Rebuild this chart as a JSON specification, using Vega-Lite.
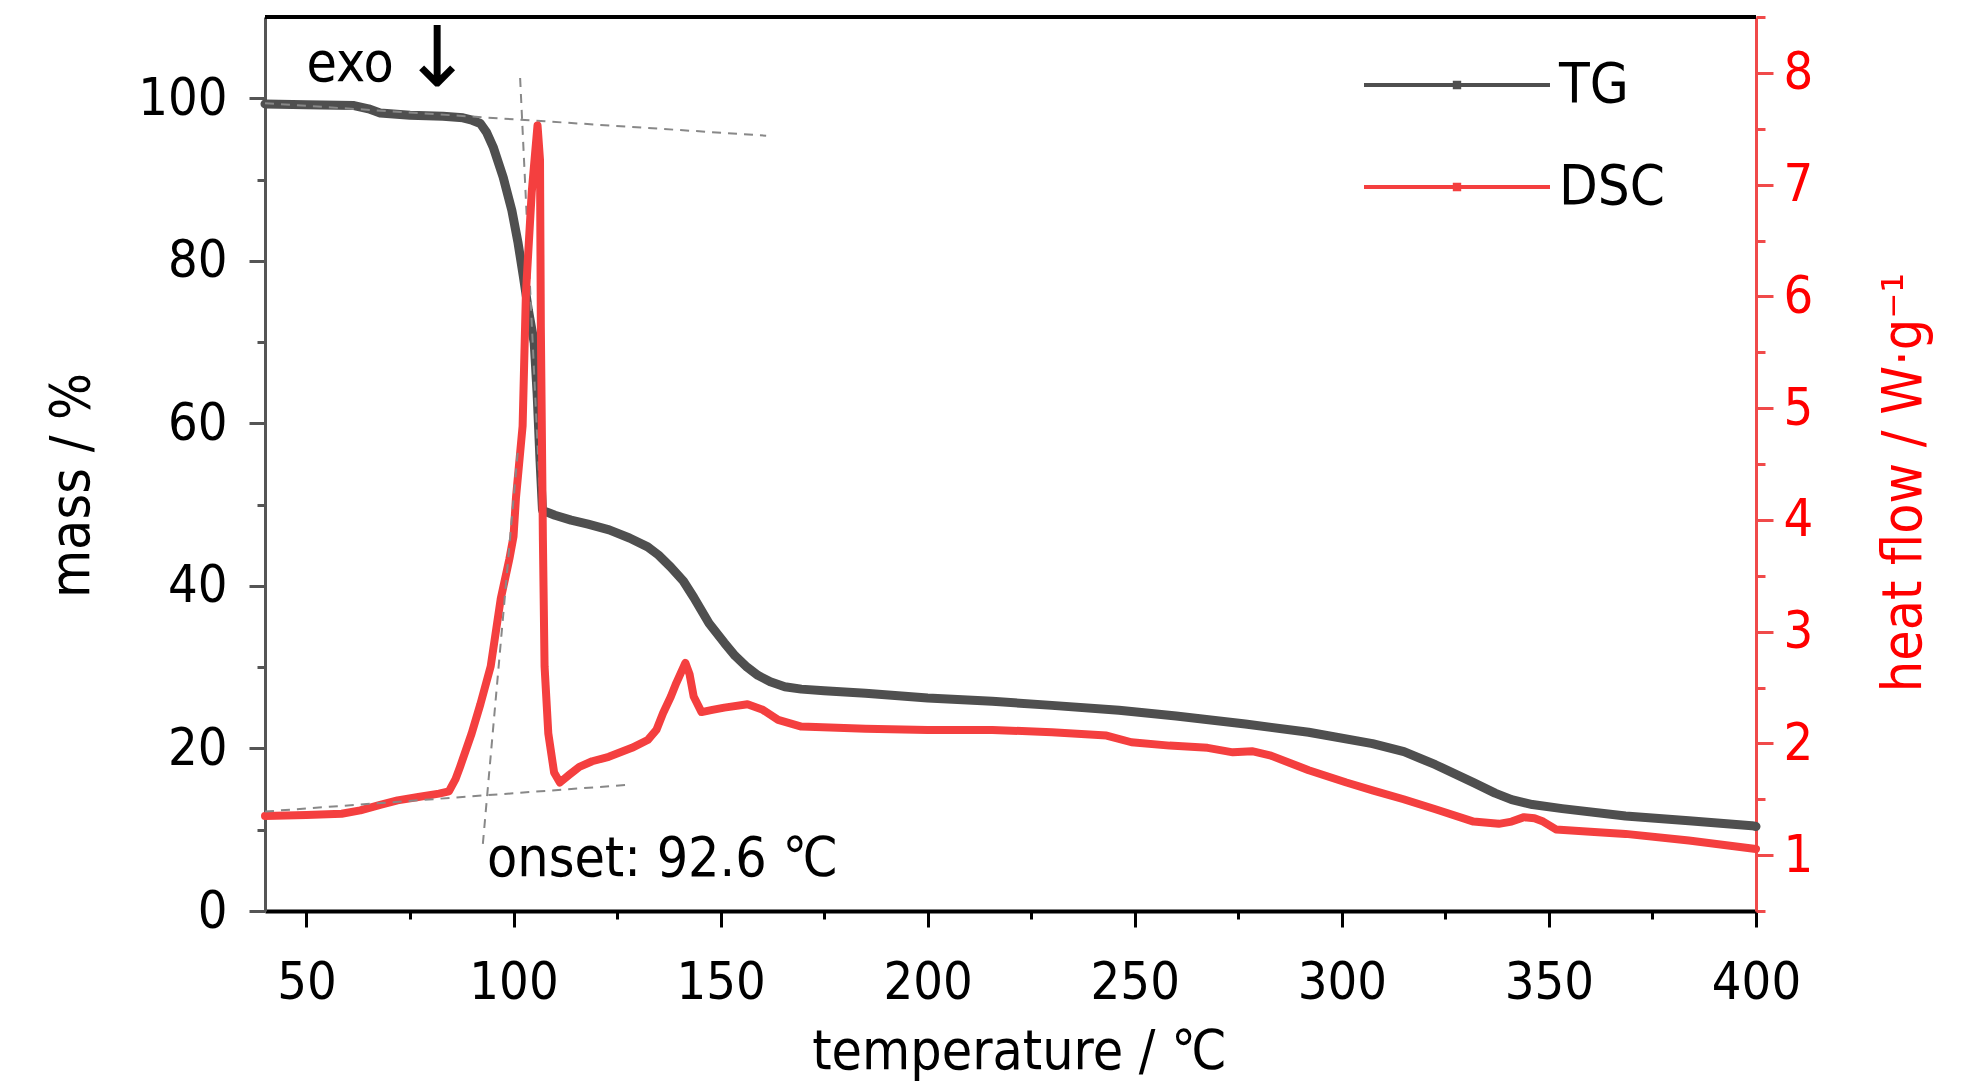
{
  "$schema": "https://vega.github.io/schema/vega-lite/v6.json",
  "width": 1491,
  "height": 894,
  "autosize": {"type": "none"},
  "padding": {"left": 265, "top": 17, "right": 228, "bottom": 176},
  "background": "white",
  "config": {
    "view": {"stroke": null},
    "font": "Liberation Sans Narrow, Arial Narrow, DejaVu Sans Condensed, sans-serif",
    "axis": {
      "grid": false,
      "labelFont": "Liberation Sans Narrow, Arial Narrow, DejaVu Sans Condensed, sans-serif",
      "titleFont": "Liberation Sans Narrow, Arial Narrow, DejaVu Sans Condensed, sans-serif",
      "labelFontSize": 52,
      "titleFontSize": 55,
      "titleFontWeight": "normal",
      "labelFlush": false,
      "labelOverlap": false,
      "tickWidth": 3
    }
  },
  "datasets": {
    "tg": [
      {"t": 40, "m": 99.3}, {"t": 50, "m": 99.2}, {"t": 61.5, "m": 99.1}, {"t": 65, "m": 98.7},
      {"t": 67.8, "m": 98.2}, {"t": 75, "m": 97.9}, {"t": 83, "m": 97.8}, {"t": 87.8, "m": 97.6},
      {"t": 90, "m": 97.3}, {"t": 92, "m": 96.9}, {"t": 93.5, "m": 95.8}, {"t": 95.1, "m": 94.0},
      {"t": 97.5, "m": 90.3}, {"t": 99.6, "m": 86.2}, {"t": 101.1, "m": 82.2}, {"t": 102.4, "m": 78.0},
      {"t": 103.6, "m": 73.9}, {"t": 105.0, "m": 69.9}, {"t": 105.7, "m": 63.7}, {"t": 106.4, "m": 55.5},
      {"t": 107.0, "m": 49.3}, {"t": 110, "m": 48.7}, {"t": 113.9, "m": 48.1}, {"t": 118, "m": 47.6},
      {"t": 123.1, "m": 46.9}, {"t": 128, "m": 45.9}, {"t": 132.4, "m": 44.8}, {"t": 135, "m": 43.8},
      {"t": 138, "m": 42.3}, {"t": 141, "m": 40.6}, {"t": 143.5, "m": 38.6}, {"t": 147.2, "m": 35.4},
      {"t": 150.9, "m": 33.0}, {"t": 153.5, "m": 31.4}, {"t": 156.4, "m": 30.0}, {"t": 159, "m": 29.0},
      {"t": 162, "m": 28.2}, {"t": 165.5, "m": 27.6}, {"t": 169.5, "m": 27.3}, {"t": 175, "m": 27.1},
      {"t": 185, "m": 26.8}, {"t": 200, "m": 26.2}, {"t": 215.6, "m": 25.8}, {"t": 230, "m": 25.3},
      {"t": 246.2, "m": 24.7}, {"t": 260, "m": 24.0}, {"t": 276.7, "m": 23.0}, {"t": 292, "m": 22.0},
      {"t": 307.4, "m": 20.6}, {"t": 315, "m": 19.6}, {"t": 322.6, "m": 18.0}, {"t": 331.8, "m": 15.8},
      {"t": 337, "m": 14.5}, {"t": 341, "m": 13.7}, {"t": 346, "m": 13.1}, {"t": 353.2, "m": 12.6},
      {"t": 368.5, "m": 11.7}, {"t": 383.8, "m": 11.1}, {"t": 399, "m": 10.5}, {"t": 400, "m": 10.4}
    ],
    "dsc": [
      {"t": 40, "h": 1.35}, {"t": 50, "h": 1.36}, {"t": 58.5, "h": 1.37}, {"t": 63, "h": 1.4},
      {"t": 67.8, "h": 1.45}, {"t": 72, "h": 1.49}, {"t": 77, "h": 1.52}, {"t": 82, "h": 1.55},
      {"t": 84.4, "h": 1.57}, {"t": 86, "h": 1.68}, {"t": 87.1, "h": 1.79}, {"t": 89.9, "h": 2.09},
      {"t": 92, "h": 2.35}, {"t": 94.5, "h": 2.69}, {"t": 96.9, "h": 3.29}, {"t": 99, "h": 3.65},
      {"t": 100.0, "h": 3.85}, {"t": 100.6, "h": 4.2}, {"t": 102.2, "h": 4.84}, {"t": 103.0, "h": 6.03},
      {"t": 104.4, "h": 6.93}, {"t": 105.8, "h": 7.53}, {"t": 106.4, "h": 7.22}, {"t": 106.6, "h": 5.73},
      {"t": 107.1, "h": 3.82}, {"t": 107.5, "h": 2.69}, {"t": 108.4, "h": 2.09}, {"t": 109.8, "h": 1.74},
      {"t": 111.2, "h": 1.65}, {"t": 113.5, "h": 1.72}, {"t": 115.9, "h": 1.79}, {"t": 119, "h": 1.84},
      {"t": 123, "h": 1.88}, {"t": 128.6, "h": 1.96}, {"t": 132.4, "h": 2.03}, {"t": 134.5, "h": 2.12},
      {"t": 136.1, "h": 2.27}, {"t": 138, "h": 2.42}, {"t": 139.3, "h": 2.54}, {"t": 141.5, "h": 2.72},
      {"t": 142.5, "h": 2.62}, {"t": 143.5, "h": 2.42}, {"t": 145.4, "h": 2.28}, {"t": 148, "h": 2.3},
      {"t": 150.9, "h": 2.32}, {"t": 156.5, "h": 2.35}, {"t": 160.2, "h": 2.3}, {"t": 163.9, "h": 2.21},
      {"t": 169.5, "h": 2.15}, {"t": 185, "h": 2.13}, {"t": 200, "h": 2.12}, {"t": 215.6, "h": 2.12},
      {"t": 230, "h": 2.1}, {"t": 243.2, "h": 2.07}, {"t": 249.2, "h": 2.01}, {"t": 258.4, "h": 1.98},
      {"t": 267.6, "h": 1.96}, {"t": 273.7, "h": 1.92}, {"t": 278.3, "h": 1.93}, {"t": 282.9, "h": 1.89},
      {"t": 292, "h": 1.76}, {"t": 301.1, "h": 1.65}, {"t": 307.4, "h": 1.58}, {"t": 314.9, "h": 1.5},
      {"t": 322.6, "h": 1.41}, {"t": 331.8, "h": 1.3}, {"t": 337.9, "h": 1.28}, {"t": 341, "h": 1.3},
      {"t": 344, "h": 1.34}, {"t": 346.5, "h": 1.33}, {"t": 348.6, "h": 1.3}, {"t": 351.7, "h": 1.23},
      {"t": 360, "h": 1.21}, {"t": 368.5, "h": 1.19}, {"t": 383.8, "h": 1.13}, {"t": 399, "h": 1.06},
      {"t": 400, "h": 1.055}
    ],
    "tgTangents": [
      {"seg": "base", "t": 40, "m": 99.4}, {"seg": "base", "t": 161, "m": 95.4},
      {"seg": "drop", "t": 101.6, "m": 102.5}, {"seg": "drop", "t": 106.9, "m": 45.6}
    ],
    "dscTangents": [
      {"seg": "base", "t": 40, "h": 1.39}, {"seg": "base", "t": 128, "h": 1.63},
      {"seg": "rise", "t": 92.6, "h": 1.1}, {"seg": "rise", "t": 101, "h": 4.6}
    ],
    "notes": [
      {"t": 50, "m": 102.1, "label": "exo"},
      {"t": 93.6, "m": 4.3, "label": "onset: 92.6 ℃"}
    ],
    "arrow": [
      {"t": 81.5, "m": 104.6, "label": "↓"}
    ]
  },
  "layer": [
    {
      "layer": [
        {
          "data": {"name": "tg"},
          "mark": {"type": "line", "strokeWidth": 9, "strokeJoin": "round", "strokeCap": "round"},
          "encoding": {
            "x": {
              "field": "t", "type": "quantitative",
              "scale": {"domain": [40, 400], "nice": false, "zero": false},
              "axis": {
                "title": "temperature / ℃",
                "values": [50, 75, 100, 125, 150, 175, 200, 225, 250, 275, 300, 325, 350, 375, 400],
                "labelExpr": "datum.value % 50 === 0 ? datum.label : ''",
                "tickSize": {"condition": {"test": "datum.value % 50 === 0", "value": 16}, "value": 8},
                "tickColor": "black",
                "domainColor": "black",
                "domainWidth": 4,
                "labelColor": "black",
                "labelPadding": 30,
                "titleColor": "black",
                "titleX": 754,
                "titleY": 157,
                "titleBaseline": "alphabetic"
              }
            },
            "y": {
              "field": "m", "type": "quantitative",
              "scale": {"domain": [0, 110], "nice": false},
              "axis": {
                "title": "mass / %",
                "values": [0, 10, 20, 30, 40, 50, 60, 70, 80, 90, 100],
                "labelExpr": "datum.value % 20 === 0 ? datum.label : ''",
                "tickSize": {"condition": {"test": "datum.value % 20 === 0", "value": 16}, "value": 8},
                "tickColor": "#555555",
                "domainColor": "#555555",
                "domainWidth": 3,
                "labelColor": "black",
                "labelPadding": 22,
                "titleColor": "black",
                "titleAngle": 270,
                "titleBaseline": "middle",
                "titleX": -194,
                "titleY": 468
              }
            },
            "color": {
              "datum": "TG",
              "scale": {"domain": ["TG", "DSC"], "range": ["#4f4f4f", "#f43f3f"]},
              "legend": {
                "orient": "none",
                "legendX": 1164,
                "legendY": 40,
                "title": null,
                "symbolType": "M-9.3,0L9.3,0M-0.22,-0.22L0.22,-0.22L0.22,0.22L-0.22,0.22Z",
                "symbolSize": 400,
                "symbolStrokeWidth": 4,
                "labelFont": "Liberation Sans Narrow, Arial Narrow, DejaVu Sans Condensed, sans-serif",
                "labelFontSize": 56,
                "labelColor": "black",
                "labelOffset": 74,
                "rowPadding": 46
              }
            }
          }
        },
        {
          "data": {"name": "tgTangents"},
          "mark": {"type": "line", "color": "#888888", "strokeWidth": 2, "strokeDash": [9, 7]},
          "encoding": {
            "x": {"field": "t", "type": "quantitative"},
            "y": {"field": "m", "type": "quantitative"},
            "detail": {"field": "seg"}
          }
        },
        {
          "data": {"values": [{}]},
          "mark": {"type": "rule", "color": "black", "strokeWidth": 4},
          "encoding": {
            "x": {"datum": 40},
            "x2": {"datum": 400},
            "y": {"datum": 110}
          }
        },
        {
          "data": {"name": "notes"},
          "mark": {"type": "text", "align": "left", "baseline": "alphabetic", "fontSize": 55, "color": "black"},
          "encoding": {
            "x": {"field": "t", "type": "quantitative"},
            "y": {"field": "m", "type": "quantitative"},
            "text": {"field": "label"}
          }
        },
        {
          "data": {"name": "arrow"},
          "mark": {"type": "text", "align": "center", "baseline": "middle", "fontSize": 84, "font": "DejaVu Sans", "color": "black"},
          "encoding": {
            "x": {"field": "t", "type": "quantitative"},
            "y": {"field": "m", "type": "quantitative"},
            "text": {"field": "label"}
          }
        }
      ]
    },
    {
      "layer": [
        {
          "data": {"name": "dsc"},
          "mark": {"type": "line", "strokeWidth": 8, "strokeJoin": "round", "strokeCap": "round"},
          "encoding": {
            "x": {"field": "t", "type": "quantitative"},
            "y": {
              "field": "h", "type": "quantitative",
              "scale": {"domain": [0.5, 8.5], "nice": false, "zero": false},
              "axis": {
                "orient": "right",
                "title": "heat flow / W·g⁻¹",
                "values": [0.5, 1, 1.5, 2, 2.5, 3, 3.5, 4, 4.5, 5, 5.5, 6, 6.5, 7, 7.5, 8, 8.5],
                "labelExpr": "datum.value % 1 === 0 ? format(datum.value, 'd') : ''",
                "tickSize": {"condition": {"test": "datum.value % 1 === 0", "value": 17}, "value": 9},
                "tickColor": "#f04a4a",
                "domainColor": "#f04a4a",
                "domainWidth": 3,
                "labelColor": "#ff0000",
                "labelPadding": 10,
                "titleColor": "#ff0000",
                "titleAngle": 270,
                "titleBaseline": "middle",
                "titleX": 147,
                "titleY": 465
              }
            },
            "color": {"datum": "DSC"}
          }
        },
        {
          "data": {"name": "dscTangents"},
          "mark": {"type": "line", "color": "#888888", "strokeWidth": 2, "strokeDash": [9, 7]},
          "encoding": {
            "x": {"field": "t", "type": "quantitative"},
            "y": {"field": "h", "type": "quantitative"},
            "detail": {"field": "seg"}
          }
        }
      ]
    }
  ],
  "resolve": {"scale": {"y": "independent"}}
}
